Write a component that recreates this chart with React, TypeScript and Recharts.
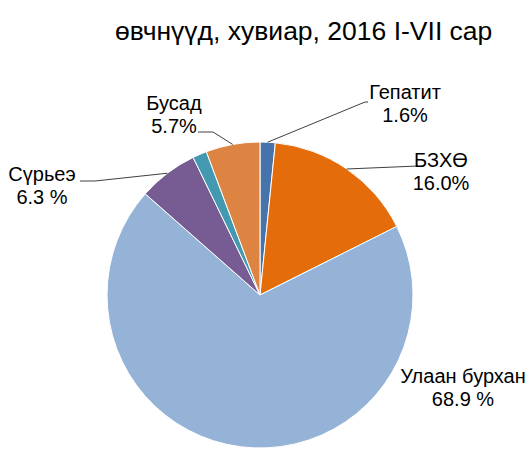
import React from 'react';
import { PieChart, Pie, Cell } from 'recharts';

const names = ['Гепатит', 'БЗХӨ', 'Улаан бурхан', 'Сүрьеэ', 'Бусад халдварт', 'Бусад'];
const values = [1.6, 16.0, 68.9, 6.3, 1.5, 5.7];
const valueLabels = ['1.6%', '16.0%', '68.9 %', '6.3 %', '', '5.7%'];
const colors = ['#4674AA', '#E46C0A', '#95B3D7', '#765C92', '#4399B0', '#DD8443'];

const chartData = names.map((name, i) => ({ name, value: values[i] }));

// label placement relative to the pie centre (tx, ty = first line baseline)
const labelLayout: Record<number, { tx: number; ty: number; line?: number[][] }> = {
  0: { tx: 145, ty: -196, line: [[105, -193], [108, -193]] },
  1: { tx: 181, ty: -128, line: [[158, -129]] },
  2: { tx: 203, ty: 88 },
  3: { tx: -218, ty: -114, line: [[-165, -114], [-180, -114]] },
  5: { tx: -86, ty: -185, line: [[-47, -163], [-62, -163]] },
};

const FONT = '"Liberation Sans", Arial, sans-serif';
const RAD = Math.PI / 180;

const renderLabel = (props: any) => {
  const { cx, cy, midAngle, outerRadius, index } = props;
  const layout = labelLayout[index];
  if (!layout) return null;
  const ex = cx + outerRadius * Math.cos(-midAngle * RAD);
  const ey = cy + outerRadius * Math.sin(-midAngle * RAD);
  const pts = layout.line
    ? [[ex, ey], ...layout.line.map(([dx, dy]) => [cx + dx, cy + dy])]
    : null;
  return (
    <g key={`lbl-${index}`}>
      {pts && (
        <polyline
          points={pts.map((p) => p.join(',')).join(' ')}
          fill="none"
          stroke="#404040"
          strokeWidth={1}
        />
      )}
      <text
        x={cx + layout.tx}
        y={cy + layout.ty}
        textAnchor="middle"
        fontFamily={FONT}
        fontSize={20}
        fill="#000"
      >
        <tspan x={cx + layout.tx}>{names[index]}</tspan>
        <tspan x={cx + layout.tx} dy={23}>{valueLabels[index]}</tspan>
      </text>
    </g>
  );
};

export default function App() {
  return (
    <div style={{ position: 'absolute', left: 0, top: 0, width: 528, height: 450, background: '#fff' }}>
      <svg width={528} height={50} style={{ position: 'absolute', left: 0, top: 0 }}>
        <text x={115} y={40} fontFamily={FONT} fontSize={26.5} fill="#000">
          өвчнүүд, хувиар, 2016 I-VII сар
        </text>
      </svg>
      <div style={{ position: 'absolute', left: 0, top: 0 }}>
        <PieChart width={528} height={450}>
          <Pie
            data={chartData}
            dataKey="value"
            nameKey="name"
            cx={255}
            cy={290}
            outerRadius={153}
            startAngle={90}
            endAngle={-270}
            stroke="#fff"
            strokeWidth={1}
            label={renderLabel}
            labelLine={false}
            isAnimationActive={false}
          >
            {chartData.map((d, i) => (
              <Cell key={d.name} fill={colors[i]} />
            ))}
          </Pie>
        </PieChart>
      </div>
    </div>
  );
}
